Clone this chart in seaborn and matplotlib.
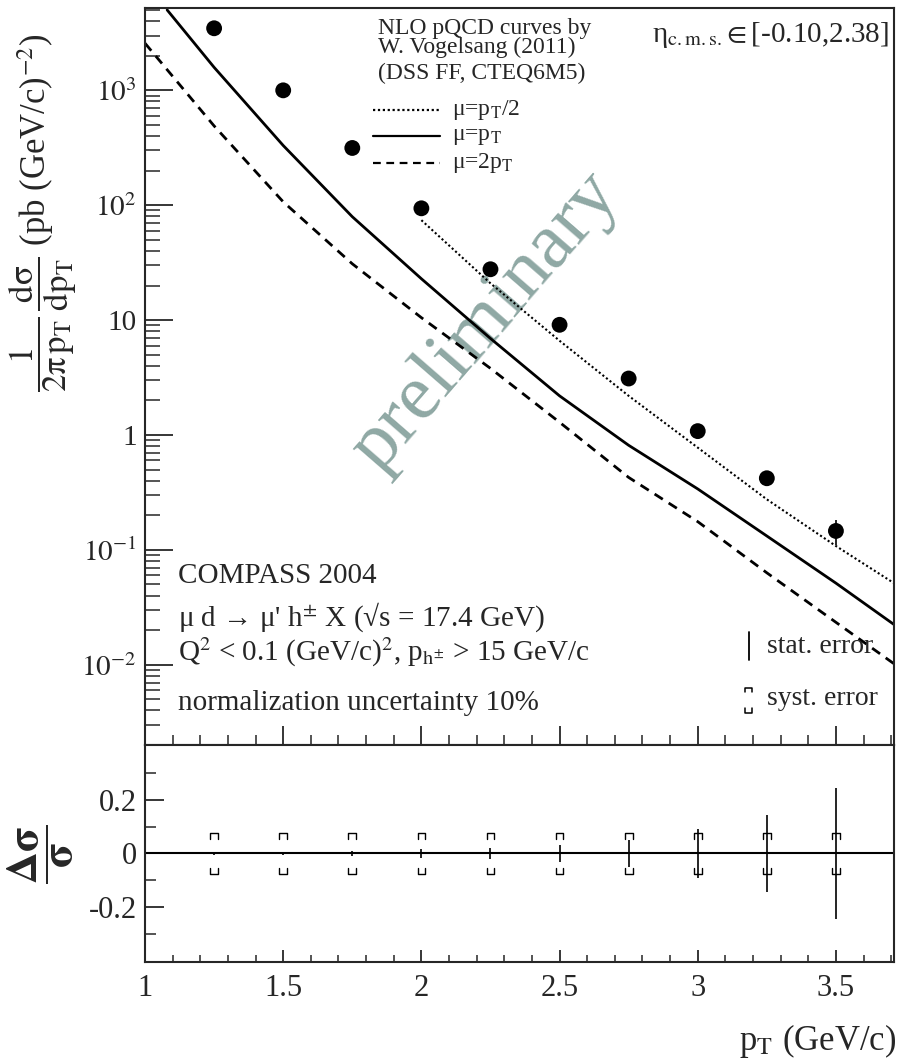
import numpy as np
import pandas as pd
import matplotlib
matplotlib.use('Agg')
import matplotlib.pyplot as plt
import seaborn as sns
from matplotlib.ticker import FixedLocator, FixedFormatter, MultipleLocator, LogLocator, NullFormatter

# COMPASS 2004 data points
pt = [1.25, 1.5, 1.75, 2.0, 2.25, 2.5, 2.75, 3.0, 3.25, 3.5]
xsec = [3470, 1000, 315, 94, 27.7, 9.1, 3.1, 1.08, 0.42, 0.146]
stat_rel = [0.005, 0.007, 0.010, 0.015, 0.022, 0.032, 0.052, 0.092, 0.143, 0.243]
syst_rel = [0.075, 0.075, 0.075, 0.075, 0.075, 0.075, 0.075, 0.075, 0.075, 0.075]

# NLO pQCD curves
mu1_pt = [1.08, 1.25, 1.5, 1.75, 2.0, 2.25, 2.5, 2.75, 3.0, 3.25, 3.5, 3.71]
mu1_xs = [5012, 1585, 331, 79.4, 22.9, 6.92, 2.19, 0.813, 0.339, 0.132, 0.0513, 0.0224]
mu2_pt = [1.0, 1.25, 1.5, 1.75, 2.0, 2.25, 2.5, 2.75, 3.0, 3.25, 3.5, 3.71]
mu2_xs = [2570, 490, 107, 30.9, 10.5, 3.80, 1.29, 0.427, 0.176, 0.0631, 0.0234, 0.0102]
muhalf_pt = [2.0, 2.25, 2.5, 2.75, 3.0, 3.25, 3.5, 3.71]
muhalf_xs = [74.1, 20.9, 6.61, 2.19, 0.776, 0.275, 0.108, 0.0513]

ytick_vals = [1e-2, 1e-1, 1, 10, 100, 1000]
ytick_labels = [r'$10^{-2}$', r'$10^{-1}$', '1', '10', r'$10^{2}$', r'$10^{3}$']

sns.set_style('ticks')
plt.rcParams['font.family'] = ['Liberation Serif', 'DejaVu Serif']
plt.rcParams['mathtext.fontset'] = 'stix'
plt.rcParams['axes.unicode_minus'] = False
plt.rcParams['axes.linewidth'] = 1.5

df = pd.DataFrame({'pt': pt, 'xsec': xsec, 'stat': stat_rel, 'syst': syst_rel})
df['err'] = df['xsec'] * df['stat']

fig = plt.figure(figsize=(8.98, 10.64), dpi=100)
ax1 = fig.add_axes([0.1615, 0.2998, 0.834, 0.6926])
ax2 = fig.add_axes([0.1615, 0.0959, 0.834, 0.2039])

# watermark
ax1.text(0.455, 0.575, 'preliminary', transform=ax1.transAxes, rotation=49,
         fontsize=57, color='#8fa8a4', ha='center', va='center', zorder=0)

# theory curves
sns.lineplot(x=muhalf_pt, y=muhalf_xs, ax=ax1, color='black', lw=1.5,
             linestyle=(0, (1, 1.2)), zorder=2)
sns.lineplot(x=mu1_pt, y=mu1_xs, ax=ax1, color='black', lw=2.0, zorder=2)
sns.lineplot(x=mu2_pt, y=mu2_xs, ax=ax1, color='black', lw=2.0,
             linestyle=(0, (3.5, 2.5)), zorder=2)

# data
ax1.errorbar(df['pt'], df['xsec'], yerr=df['err'], fmt='none', ecolor='black', elinewidth=1.2, zorder=3)
sns.scatterplot(data=df, x='pt', y='xsec', ax=ax1, s=130, color='black',
                edgecolor='none', zorder=4)

ax1.set_yscale('log')
ax1.set_xlim(1, 3.71)
ax1.set_ylim(2.0e-3, 5.2e3)
ax1.set_xlabel('')
ax1.set_ylabel('')
ax1.yaxis.set_major_locator(FixedLocator(ytick_vals))
ax1.yaxis.set_major_formatter(FixedFormatter(ytick_labels))
ax1.yaxis.set_minor_locator(LogLocator(base=10, subs=np.arange(2, 10), numticks=30))
ax1.yaxis.set_minor_formatter(NullFormatter())
ax1.xaxis.set_major_locator(MultipleLocator(0.5))
ax1.xaxis.set_minor_locator(MultipleLocator(0.1))
ax1.tick_params(axis='y', which='major', direction='in', length=20, width=1.3,
                labelsize=21, pad=6, right=False)
ax1.tick_params(axis='y', which='minor', direction='in', length=11, width=1.1, right=False)
ax1.tick_params(axis='x', which='major', direction='in', length=14, width=1.3,
                labelbottom=False, top=False)
ax1.tick_params(axis='x', which='minor', direction='in', length=7, width=1.1, top=False)

# legend of the curves
ax1.text(0.311, 0.972, 'NLO pQCD curves by', transform=ax1.transAxes, fontsize=17, va='center')
ax1.text(0.311, 0.946, 'W. Vogelsang (2011)', transform=ax1.transAxes, fontsize=17, va='center')
ax1.text(0.311, 0.911, '(DSS FF, CTEQ6M5)', transform=ax1.transAxes, fontsize=17, va='center')
leg_y = [0.862, 0.826, 0.790]
leg_styles = [(0, (1, 1.2)), '-', (0, (3.5, 2.5))]
leg_labels = [r'μ=p$_{\rm T}$/2', r'μ=p$_{\rm T}$', r'μ=2p$_{\rm T}$']
for yy, ls, lab in zip(leg_y, leg_styles, leg_labels):
    ax1.plot([0.304, 0.394], [yy, yy], transform=ax1.transAxes, color='black',
             lw=1.6, linestyle=ls)
    ax1.text(0.41, yy, lab, transform=ax1.transAxes, fontsize=17, va='center')

ax1.text(0.993, 0.963, r'η$_{\rm c.m.s.}\!\in$[-0.10,2.38]', transform=ax1.transAxes,
         fontsize=21, ha='right', va='center')

# experiment info
ax1.text(0.044, 0.229, 'COMPASS 2004', transform=ax1.transAxes, fontsize=21, va='center')
ax1.text(0.044, 0.174, r"μ d → μ' h$^{\pm}$ X (√s = 17.4 GeV)",
         transform=ax1.transAxes, fontsize=21, va='center')
ax1.text(0.044, 0.126, r'Q$^{2}$ < 0.1 (GeV/c)$^{2}$, p$_{\rm h^{\pm}}$ > 15 GeV/c',
         transform=ax1.transAxes, fontsize=21, va='center')
ax1.text(0.044, 0.057, 'normalization uncertainty 10%', transform=ax1.transAxes,
         fontsize=21, va='center')

# stat / syst error legend
ax1.plot([0.806, 0.806], [0.115, 0.153], transform=ax1.transAxes, color='black', lw=1.3)
ax1.text(0.83, 0.134, 'stat. error', transform=ax1.transAxes, fontsize=20, va='center')
bx = [0.801, 0.801, 0.811, 0.811]
ax1.plot(bx, [0.072, 0.078, 0.078, 0.072], transform=ax1.transAxes, color='black', lw=1.1)
ax1.plot(bx, [0.050, 0.044, 0.044, 0.050], transform=ax1.transAxes, color='black', lw=1.1)
ax1.text(0.83, 0.063, 'syst. error', transform=ax1.transAxes, fontsize=20, va='center')

# lower panel: relative errors
ax2.axhline(0, color='black', lw=1.5)
ax2.errorbar(df['pt'], np.zeros(len(df)), yerr=df['stat'], fmt='none',
             ecolor='black', elinewidth=1.2)
hw = 0.014
leg = 0.022
for x, s in zip(df['pt'], df['syst']):
    ax2.plot([x - hw, x - hw, x + hw, x + hw], [s - leg, s, s, s - leg], color='black', lw=1.0)
    ax2.plot([x - hw, x - hw, x + hw, x + hw], [-s + leg, -s, -s, -s + leg], color='black', lw=1.0)

ax2.set_xlim(1, 3.71)
ax2.set_ylim(-0.405, 0.405)
ax2.xaxis.set_major_locator(FixedLocator([1, 1.5, 2, 2.5, 3, 3.5]))
ax2.xaxis.set_major_formatter(FixedFormatter(['1', '1.5', '2', '2.5', '3', '3.5']))
ax2.xaxis.set_minor_locator(MultipleLocator(0.1))
ax2.yaxis.set_major_locator(FixedLocator([-0.2, 0, 0.2]))
ax2.yaxis.set_major_formatter(FixedFormatter(['-0.2', '0', '0.2']))
ax2.yaxis.set_minor_locator(FixedLocator([-0.3, -0.1, 0.1, 0.3]))
ax2.tick_params(axis='x', which='major', direction='in', length=9, width=1.3,
                labelsize=22, pad=9, top=False)
ax2.tick_params(axis='x', which='minor', direction='in', length=5, width=1.1, top=False)
ax2.tick_params(axis='y', which='major', direction='in', length=14, width=1.3,
                labelsize=22, pad=6, right=False)
ax2.tick_params(axis='y', which='minor', direction='in', length=8, width=1.1, right=False)

# axis titles
fig.text(0.047, 0.80,
         r'$\dfrac{1}{\mathrm{2\pi\,p_T}}\,\dfrac{\mathrm{d\sigma}}{\mathrm{dp_T}}$ (pb (GeV/c)$^{-2}$)',
         rotation=90, fontsize=25, ha='center', va='center')
fig.text(0.045, 0.197, r'$\dfrac{\mathbf{\Delta\sigma}}{\mathbf{\sigma}}$', rotation=90, fontsize=32,
         ha='center', va='center')
fig.text(0.998, 0.022, r'p$_{\rm T}$ (GeV/c)', fontsize=25, ha='right', va='center')

fig.savefig('out.png', dpi=100)
